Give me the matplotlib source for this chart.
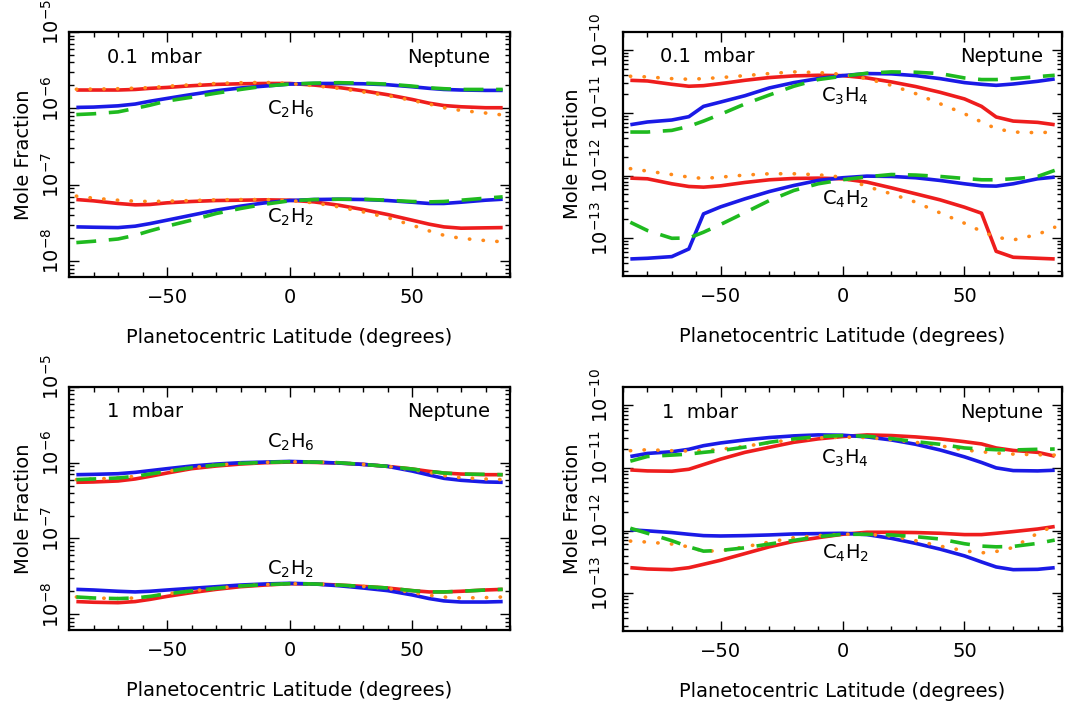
import matplotlib
matplotlib.use("Agg")
from matplotlib import pyplot as plt
from matplotlib.ticker import LogLocator, MultipleLocator, NullFormatter, LogFormatterMathtext
from matplotlib.transforms import ScaledTranslation

plt.rcParams["font.family"] = "DejaVu Sans"
plt.rcParams["font.size"] = 14
plt.rcParams["mathtext.default"] = "regular"

# Planetocentric latitudes of the model points
lat = [-87, -80, -70, -63, -57, -50, -40, -30, -20, -10, 0,
       10, 20, 30, 40, 50, 57, 63, 70, 80, 87]

# ---- 0.1 mbar, C2H6 ----
c2h6_01_red = [1.74e-6, 1.74e-6, 1.74e-6, 1.77e-6, 1.83e-6, 1.88e-6, 1.98e-6, 2.06e-6, 2.10e-6, 2.12e-6, 2.12e-6,
               2.02e-6, 1.88e-6, 1.70e-6, 1.51e-6, 1.31e-6, 1.17e-6, 1.09e-6, 1.05e-6, 1.02e-6, 1.02e-6]
c2h6_01_orange = [1.78e-6, 1.79e-6, 1.81e-6, 1.84e-6, 1.87e-6, 1.95e-6, 2.04e-6, 2.12e-6, 2.17e-6, 2.19e-6, 2.12e-6,
                  1.98e-6, 1.83e-6, 1.64e-6, 1.47e-6, 1.27e-6, 1.14e-6, 1.02e-6, 9.4e-7, 8.7e-7, 8.2e-7]
c2h6_01_blue = [1.03e-6, 1.04e-6, 1.08e-6, 1.14e-6, 1.24e-6, 1.35e-6, 1.52e-6, 1.70e-6, 1.85e-6, 1.96e-6, 2.08e-6,
                2.12e-6, 2.12e-6, 2.10e-6, 2.04e-6, 1.92e-6, 1.83e-6, 1.77e-6, 1.74e-6, 1.72e-6, 1.72e-6]
c2h6_01_green = [8.3e-7, 8.5e-7, 9.0e-7, 1.0e-6, 1.10e-6, 1.25e-6, 1.40e-6, 1.58e-6, 1.77e-6, 1.96e-6, 2.08e-6,
                 2.14e-6, 2.17e-6, 2.14e-6, 2.08e-6, 1.96e-6, 1.86e-6, 1.81e-6, 1.77e-6, 1.77e-6, 1.77e-6]

# ---- 0.1 mbar, C2H2 ----
c2h2_01_red = [6.41e-8, 6.16e-8, 5.69e-8, 5.46e-8, 5.52e-8, 5.80e-8, 6.04e-8, 6.22e-8, 6.28e-8, 6.35e-8, 6.28e-8,
               5.97e-8, 5.41e-8, 4.74e-8, 4.08e-8, 3.44e-8, 3.05e-8, 2.81e-8, 2.70e-8, 2.73e-8, 2.75e-8]
c2h2_01_orange = [7.1e-8, 6.68e-8, 6.28e-8, 6.10e-8, 6.04e-8, 6.10e-8, 6.22e-8, 6.35e-8, 6.41e-8, 6.41e-8, 6.22e-8,
                  5.80e-8, 5.14e-8, 4.42e-8, 3.72e-8, 2.96e-8, 2.49e-8, 2.18e-8, 1.99e-8, 1.86e-8, 1.79e-8]
c2h2_01_blue = [2.81e-8, 2.78e-8, 2.75e-8, 2.87e-8, 3.10e-8, 3.44e-8, 4.0e-8, 4.65e-8, 5.25e-8, 5.80e-8, 6.22e-8,
                6.41e-8, 6.47e-8, 6.41e-8, 6.22e-8, 5.91e-8, 5.69e-8, 5.69e-8, 5.91e-8, 6.28e-8, 6.47e-8]
c2h2_01_green = [1.75e-8, 1.82e-8, 1.95e-8, 2.18e-8, 2.49e-8, 2.87e-8, 3.44e-8, 4.2e-8, 4.89e-8, 5.57e-8, 6.16e-8,
                 6.41e-8, 6.47e-8, 6.47e-8, 6.28e-8, 6.04e-8, 5.97e-8, 6.04e-8, 6.28e-8, 6.68e-8, 6.95e-8]

# ---- 0.1 mbar, C3H4 ----
c3h4_01_red = [3.31e-11, 3.23e-11, 2.86e-11, 2.66e-11, 2.72e-11, 2.93e-11, 3.31e-11, 3.66e-11, 3.89e-11, 3.98e-11, 3.93e-11,
               3.61e-11, 3.12e-11, 2.63e-11, 2.13e-11, 1.67e-11, 1.27e-11, 8.6e-12, 7.4e-12, 7.06e-12, 6.48e-12]
c3h4_01_orange = [3.84e-11, 3.75e-11, 3.52e-11, 3.44e-11, 3.52e-11, 3.66e-11, 3.93e-11, 4.24e-11, 4.51e-11, 4.40e-11, 4.13e-11,
                  3.52e-11, 2.75e-11, 2.03e-11, 1.40e-11, 9.7e-12, 7.15e-12, 5.6e-12, 4.95e-12, 4.83e-12, 4.95e-12]
c3h4_01_blue = [6.48e-12, 7.16e-12, 7.7e-12, 8.7e-12, 1.27e-11, 1.49e-11, 1.88e-11, 2.50e-11, 3.04e-11, 3.52e-11, 3.93e-11,
                4.24e-11, 4.19e-11, 3.93e-11, 3.52e-11, 3.04e-11, 2.86e-11, 2.75e-11, 2.89e-11, 3.19e-11, 3.48e-11]
c3h4_01_green = [4.95e-12, 4.95e-12, 5.26e-12, 6.1e-12, 7.4e-12, 9.5e-12, 1.39e-11, 1.93e-11, 2.66e-11, 3.40e-11, 3.84e-11,
                 4.29e-11, 4.51e-11, 4.45e-11, 4.24e-11, 3.61e-11, 3.40e-11, 3.40e-11, 3.52e-11, 3.79e-11, 3.98e-11]

# ---- 0.1 mbar, C4H2 ----
c4h2_01_red = [9.11e-13, 8.89e-13, 7.4e-13, 6.7e-13, 6.54e-13, 6.87e-13, 7.77e-13, 8.57e-13, 9.0e-13, 9.11e-13, 8.89e-13,
               7.87e-13, 6.38e-13, 5.12e-13, 4.10e-13, 3.13e-13, 2.51e-13, 6.2e-14, 4.98e-14, 4.80e-14, 4.68e-14]
c4h2_01_orange = [1.29e-12, 1.18e-12, 1.04e-12, 9.45e-13, 9.0e-13, 9.45e-13, 1.02e-12, 1.07e-12, 1.07e-12, 1.03e-12, 9.45e-13,
                  6.7e-13, 5.12e-13, 3.77e-13, 2.54e-13, 1.74e-13, 1.29e-13, 1.04e-13, 9.4e-14, 1.15e-13, 1.50e-13]
c4h2_01_blue = [4.68e-14, 4.80e-14, 5.1e-14, 6.76e-14, 2.45e-13, 3.17e-13, 4.26e-13, 5.57e-13, 6.95e-13, 8.36e-13, 9.23e-13,
                9.81e-13, 9.69e-13, 9.23e-13, 8.36e-13, 7.4e-13, 6.87e-13, 6.79e-13, 7.4e-13, 8.89e-13, 9.45e-13]
c4h2_01_green = [1.80e-13, 1.33e-13, 1.0e-13, 1.01e-13, 1.25e-13, 1.66e-13, 2.57e-13, 4.0e-13, 5.78e-13, 7.4e-13, 8.57e-13,
                 9.57e-13, 1.04e-12, 1.02e-12, 9.69e-13, 9.0e-13, 8.57e-13, 8.57e-13, 8.89e-13, 9.69e-13, 1.21e-12]

# ---- 1 mbar, C2H6 ----
c2h6_1_red = [5.51e-7, 5.57e-7, 5.74e-7, 6.1e-7, 6.61e-7, 7.31e-7, 8.34e-7, 9.04e-7, 9.6e-7, 1.0e-6, 1.02e-6,
              1.01e-6, 9.9e-7, 9.5e-7, 8.95e-7, 8.26e-7, 7.69e-7, 7.31e-7, 7.09e-7, 6.95e-7, 6.95e-7]
c2h6_1_orange = [5.98e-7, 6.1e-7, 6.28e-7, 6.61e-7, 7.09e-7, 7.69e-7, 8.6e-7, 9.3e-7, 9.8e-7, 1.01e-6, 1.03e-6,
                 1.02e-6, 1.0e-6, 9.5e-7, 8.95e-7, 8.1e-7, 7.46e-7, 6.75e-7, 6.35e-7, 6.1e-7, 5.98e-7]
c2h6_1_blue = [6.95e-7, 7.02e-7, 7.16e-7, 7.46e-7, 7.85e-7, 8.34e-7, 9.04e-7, 9.60e-7, 1.0e-6, 1.02e-6, 1.04e-6,
               1.02e-6, 9.9e-7, 9.5e-7, 8.95e-7, 7.77e-7, 6.88e-7, 6.22e-7, 5.86e-7, 5.57e-7, 5.51e-7]
c2h6_1_green = [5.98e-7, 6.1e-7, 6.28e-7, 6.61e-7, 7.09e-7, 7.69e-7, 8.6e-7, 9.3e-7, 9.8e-7, 1.01e-6, 1.03e-6,
                1.02e-6, 1.0e-6, 9.5e-7, 8.95e-7, 8.26e-7, 7.69e-7, 7.31e-7, 7.09e-7, 7.02e-7, 6.95e-7]

# ---- 1 mbar, C2H2 ----
c2h2_1_red = [1.47e-8, 1.44e-8, 1.42e-8, 1.47e-8, 1.57e-8, 1.72e-8, 1.93e-8, 2.13e-8, 2.31e-8, 2.43e-8, 2.53e-8,
              2.51e-8, 2.43e-8, 2.33e-8, 2.22e-8, 2.05e-8, 1.97e-8, 1.97e-8, 2.01e-8, 2.09e-8, 2.13e-8]
c2h2_1_orange = [1.69e-8, 1.64e-8, 1.61e-8, 1.64e-8, 1.72e-8, 1.86e-8, 2.03e-8, 2.20e-8, 2.36e-8, 2.46e-8, 2.53e-8,
                 2.51e-8, 2.43e-8, 2.33e-8, 2.20e-8, 1.93e-8, 1.78e-8, 1.69e-8, 1.64e-8, 1.66e-8, 1.69e-8]
c2h2_1_blue = [2.13e-8, 2.09e-8, 2.01e-8, 1.97e-8, 2.01e-8, 2.09e-8, 2.20e-8, 2.31e-8, 2.43e-8, 2.51e-8, 2.56e-8,
               2.51e-8, 2.38e-8, 2.22e-8, 2.05e-8, 1.80e-8, 1.61e-8, 1.50e-8, 1.45e-8, 1.45e-8, 1.47e-8]
c2h2_1_green = [1.69e-8, 1.64e-8, 1.61e-8, 1.64e-8, 1.72e-8, 1.86e-8, 2.03e-8, 2.20e-8, 2.36e-8, 2.46e-8, 2.53e-8,
                2.51e-8, 2.43e-8, 2.33e-8, 2.22e-8, 2.05e-8, 1.97e-8, 1.97e-8, 2.01e-8, 2.09e-8, 2.13e-8]

# ---- 1 mbar, C3H4 ----
c3h4_1_red = [9.28e-12, 8.95e-12, 8.84e-12, 9.51e-12, 1.13e-11, 1.38e-11, 1.77e-11, 2.13e-11, 2.56e-11, 2.90e-11, 3.16e-11,
              3.36e-11, 3.28e-11, 3.12e-11, 2.90e-11, 2.62e-11, 2.41e-11, 2.08e-11, 1.90e-11, 1.77e-11, 1.54e-11]
c3h4_1_orange = [1.88e-11, 1.95e-11, 1.88e-11, 1.86e-11, 1.88e-11, 1.98e-11, 2.21e-11, 2.53e-11, 2.83e-11, 3.01e-11, 3.09e-11,
                 3.05e-11, 2.83e-11, 2.56e-11, 2.26e-11, 1.93e-11, 1.81e-11, 1.72e-11, 1.66e-11, 1.62e-11, 1.60e-11]
c3h4_1_blue = [1.52e-11, 1.70e-11, 1.81e-11, 1.98e-11, 2.26e-11, 2.50e-11, 2.79e-11, 3.05e-11, 3.24e-11, 3.36e-11, 3.32e-11,
               3.12e-11, 2.79e-11, 2.38e-11, 1.93e-11, 1.50e-11, 1.22e-11, 1.0e-11, 9.06e-12, 8.95e-12, 9.17e-12]
c3h4_1_green = [1.28e-11, 1.52e-11, 1.60e-11, 1.66e-11, 1.77e-11, 1.88e-11, 2.15e-11, 2.56e-11, 2.90e-11, 3.16e-11, 3.28e-11,
                3.20e-11, 2.94e-11, 2.62e-11, 2.38e-11, 2.08e-11, 2.0e-11, 1.95e-11, 1.93e-11, 1.98e-11, 2.0e-11]

# ---- 1 mbar, C4H2 ----
c4h2_1_red = [2.56e-13, 2.44e-13, 2.38e-13, 2.56e-13, 2.9e-13, 3.36e-13, 4.3e-13, 5.51e-13, 6.73e-13, 7.71e-13, 8.73e-13,
              9.4e-13, 9.4e-13, 9.3e-13, 9.06e-13, 8.63e-13, 8.63e-13, 9.06e-13, 9.64e-13, 1.06e-12, 1.16e-12]
c4h2_1_orange = [6.8e-13, 6.56e-13, 6.1e-13, 5.51e-13, 4.7e-13, 4.76e-13, 5.51e-13, 6.56e-13, 7.71e-13, 8.31e-13, 8.73e-13,
                 8.73e-13, 8.2e-13, 6.9e-13, 5.66e-13, 4.76e-13, 4.41e-13, 4.64e-13, 5.38e-13, 9.06e-13, 1.2e-12]
c4h2_1_blue = [1.03e-12, 9.9e-13, 9.3e-13, 8.73e-13, 8.31e-13, 8.2e-13, 8.31e-13, 8.52e-13, 8.84e-13, 8.95e-13, 9.06e-13,
               8.63e-13, 7.52e-13, 6.25e-13, 5.06e-13, 3.95e-13, 3.16e-13, 2.63e-13, 2.38e-13, 2.41e-13, 2.56e-13]
c4h2_1_green = [1.09e-12, 9.06e-13, 6.9e-13, 5.51e-13, 4.7e-13, 4.82e-13, 5.32e-13, 6.1e-13, 6.98e-13, 8.0e-13, 8.73e-13,
                8.73e-13, 8.52e-13, 8.0e-13, 7.34e-13, 6.17e-13, 5.66e-13, 5.51e-13, 5.59e-13, 6.25e-13, 7.06e-13]

# decade ticks shown on each pair of panels
c2_ticks = [1e-8, 1e-7, 1e-6, 1e-5]
c3c4_ticks = [1e-13, 1e-12, 1e-11, 1e-10]

# colours / styles of the four models
RED = "#ee1d1d"
ORANGE = "#ff8a1a"
BLUE = "#1a1ae6"
GREEN = "#1fba1f"
LW = 2.6


def draw_species(ax, red, orange, blue, green):
    ax.plot(lat, red, color=RED, lw=LW, solid_capstyle="butt")
    ax.plot(lat, blue, color=BLUE, lw=LW, solid_capstyle="butt")
    ax.plot(lat, orange, color=ORANGE, lw=LW, linestyle=(0, (0.1, 3.7)),
            dash_capstyle="round")
    ax.plot(lat, green, color=GREEN, lw=LW, linestyle=(0, (5.5, 3.5)),
            dash_capstyle="butt")


def style_axes(ax, ylim, yticks, ypad):
    ax.set_xlim(-90, 90)
    ax.set_yscale("log")
    ax.set_ylim(*ylim)
    ax.xaxis.set_major_locator(MultipleLocator(50))
    ax.xaxis.set_minor_locator(MultipleLocator(10))
    ax.set_yticks(yticks)
    ax.yaxis.set_minor_locator(LogLocator(base=10, subs=range(2, 10), numticks=20))
    ax.yaxis.set_major_formatter(LogFormatterMathtext())
    ax.yaxis.set_minor_formatter(NullFormatter())
    ax.tick_params(which="both", direction="in", top=True, right=True, width=1.0)
    ax.tick_params(which="major", length=7.5)
    ax.tick_params(which="minor", length=3.8)
    ax.tick_params(axis="x", pad=8)
    ax.tick_params(axis="y", pad=ypad, labelrotation=90)
    # IDL puts the rotated decade labels a little above the tick
    shift = ScaledTranslation(0, 7 / 72, fig.dpi_scale_trans)
    for lbl in ax.get_yticklabels():
        lbl.set_verticalalignment("center")
        lbl.set_transform(lbl.get_transform() + shift)
    for sp in ax.spines.values():
        sp.set_linewidth(1.6)
    ax.set_xlabel("Planetocentric Latitude (degrees)", labelpad=15)
    ax.set_ylabel("Mole Fraction", labelpad=6)


fig = plt.figure(figsize=(10.65, 7.02), dpi=100)

ax_tl = fig.add_axes([0.0648, 0.6054, 0.4141, 0.349])
ax_tr = fig.add_axes([0.585, 0.6068, 0.4122, 0.3476])
ax_bl = fig.add_axes([0.0648, 0.1026, 0.4141, 0.3462])
ax_br = fig.add_axes([0.585, 0.1011, 0.4122, 0.3476])

# top left: C2H6 / C2H2 at 0.1 mbar
draw_species(ax_tl, c2h6_01_red, c2h6_01_orange, c2h6_01_blue, c2h6_01_green)
draw_species(ax_tl, c2h2_01_red, c2h2_01_orange, c2h2_01_blue, c2h2_01_green)
style_axes(ax_tl, (6.2e-9, 1e-5), c2_ticks, 4.5)
ax_tl.text(0.503, 0.661, "C$_2$H$_6$", transform=ax_tl.transAxes, ha="center", va="baseline")
ax_tl.text(0.503, 0.222, "C$_2$H$_2$", transform=ax_tl.transAxes, ha="center", va="baseline")
ax_tl.text(0.086, 0.894, "0.1  mbar", transform=ax_tl.transAxes, ha="left", va="center")
ax_tl.text(0.955, 0.894, "Neptune", transform=ax_tl.transAxes, ha="right", va="center")

# top right: C3H4 / C4H2 at 0.1 mbar
draw_species(ax_tr, c3h4_01_red, c3h4_01_orange, c3h4_01_blue, c3h4_01_green)
draw_species(ax_tr, c4h2_01_red, c4h2_01_orange, c4h2_01_blue, c4h2_01_green)
style_axes(ax_tr, (2.5e-14, 1.95e-10), c3c4_ticks, 8)
ax_tr.text(0.506, 0.714, "C$_3$H$_4$", transform=ax_tr.transAxes, ha="center", va="baseline")
ax_tr.text(0.506, 0.291, "C$_4$H$_2$", transform=ax_tr.transAxes, ha="center", va="baseline")
ax_tr.text(0.084, 0.898, "0.1  mbar", transform=ax_tr.transAxes, ha="left", va="center")
ax_tr.text(0.957, 0.898, "Neptune", transform=ax_tr.transAxes, ha="right", va="center")

# bottom left: C2H6 / C2H2 at 1 mbar
draw_species(ax_bl, c2h6_1_red, c2h6_1_orange, c2h6_1_blue, c2h6_1_green)
draw_species(ax_bl, c2h2_1_red, c2h2_1_orange, c2h2_1_blue, c2h2_1_green)
style_axes(ax_bl, (6.2e-9, 1e-5), c2_ticks, 4.5)
ax_bl.text(0.503, 0.748, "C$_2$H$_6$", transform=ax_bl.transAxes, ha="center", va="baseline")
ax_bl.text(0.503, 0.226, "C$_2$H$_2$", transform=ax_bl.transAxes, ha="center", va="baseline")
ax_bl.text(0.086, 0.898, "1  mbar", transform=ax_bl.transAxes, ha="left", va="center")
ax_bl.text(0.955, 0.898, "Neptune", transform=ax_bl.transAxes, ha="right", va="center")

# bottom right: C3H4 / C4H2 at 1 mbar
draw_species(ax_br, c3h4_1_red, c3h4_1_orange, c3h4_1_blue, c3h4_1_green)
draw_species(ax_br, c4h2_1_red, c4h2_1_orange, c4h2_1_blue, c4h2_1_green)
style_axes(ax_br, (2.5e-14, 1.95e-10), c3c4_ticks, 8)
ax_br.text(0.506, 0.687, "C$_3$H$_4$", transform=ax_br.transAxes, ha="center", va="baseline")
ax_br.text(0.506, 0.298, "C$_4$H$_2$", transform=ax_br.transAxes, ha="center", va="baseline")
ax_br.text(0.088, 0.895, "1  mbar", transform=ax_br.transAxes, ha="left", va="center")
ax_br.text(0.957, 0.895, "Neptune", transform=ax_br.transAxes, ha="right", va="center")

fig.savefig("out.png", dpi=100)
